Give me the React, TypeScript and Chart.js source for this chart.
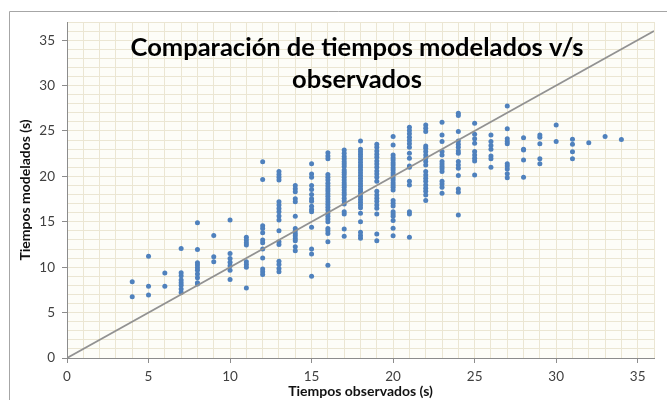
import React, { useEffect, useRef } from 'react';
import { Chart, registerables } from 'chart.js';

Chart.register(...registerables);

// Observed times (s) – x positions of each column of points
const observedTimes = [4, 5, 6, 7, 8, 9, 10, 11, 12, 13, 14, 15, 16, 17, 18, 19, 20, 21, 22, 23, 24, 25, 26, 27, 28, 29, 30, 31, 32, 33, 34];

// Modeled times (s) for each observed time
const m04 = [8.4, 6.75];
const m05 = [11.2, 7.9, 6.95];
const m06 = [9.35, 7.9];
const m07 = [12.05, 9.4, 9.05, 8.6, 8.3, 8.0, 7.6, 7.2];
const m08 = [14.9, 11.95, 10.5, 10.25, 9.95, 9.65, 9.25, 8.85, 8.3, 8.15];
const m09 = [13.5, 11.15, 10.6];
const m10 = [15.2, 11.5, 10.95, 10.55, 10.15, 9.65, 8.65];
const m11 = [13.3, 13.0, 12.7, 12.45, 10.6, 10.3, 10.0, 7.7];
const m12 = [21.6, 19.65, 14.55, 14.25, 13.8, 13.0, 12.7, 12.0, 11.0, 9.8, 9.5, 9.2];
const m13 = [20.55, 20.2, 19.9, 19.6, 17.2, 16.85, 16.45, 16.1, 15.65, 15.2, 14.0, 12.8, 12.5, 10.65, 10.3, 9.85, 9.5];
const m14 = [19.0, 18.65, 18.3, 17.55, 17.2, 15.6, 14.25, 14.0, 13.7, 13.45, 13.15, 12.9, 12.25, 11.8];
const m15 = [21.4, 20.25, 19.9, 19.0, 18.55, 18.0, 17.55, 17.25, 16.7, 16.35, 16.1, 14.4, 12.0, 11.45, 9.0];
const m16 = [22.6, 22.25, 21.95, 20.2, 19.9, 19.6, 19.25, 18.95, 18.65, 18.4, 18.1, 17.8, 17.5, 17.2, 16.9, 16.6, 16.3, 15.9, 15.6, 15.3, 15.0, 14.25, 14.0, 13.7, 12.8, 10.2];
const m17 = [22.9, 22.55, 22.2, 21.9, 21.6, 21.35, 21.1, 20.7, 20.45, 20.2, 19.9, 19.6, 19.3, 19.05, 18.8, 18.5, 18.2, 17.95, 17.6, 17.3, 16.95, 16.1, 15.85, 14.2, 13.4];
const m18 = [23.9, 23.0, 22.7, 22.45, 22.15, 21.85, 21.55, 21.25, 21.0, 20.7, 20.4, 20.1, 19.8, 19.5, 19.2, 18.9, 18.6, 18.35, 18.05, 17.75, 17.45, 17.15, 16.85, 16.55, 15.95, 15.0, 13.85, 13.5, 13.2];
const m19 = [23.55, 23.2, 22.8, 22.45, 22.1, 21.7, 21.35, 21.0, 20.6, 20.25, 19.9, 19.45, 18.35, 17.95, 17.6, 17.25, 16.85, 16.5, 15.85, 13.65, 12.9];
const m20 = [24.4, 23.45, 22.35, 22.05, 21.8, 21.5, 21.25, 20.95, 20.7, 20.4, 20.15, 19.85, 19.6, 19.3, 19.05, 18.8, 18.5, 17.35, 17.05, 16.75, 16.1, 15.85, 15.6, 15.15, 14.3, 13.45];
const m21 = [25.4, 25.05, 24.7, 24.3, 23.95, 23.6, 23.2, 22.55, 22.0, 21.15, 21.0, 19.45, 19.05, 16.1, 15.85, 13.3];
const m22 = [25.65, 25.3, 24.95, 23.35, 23.1, 22.75, 22.35, 22.0, 21.65, 21.25, 20.55, 20.15, 19.8, 19.45, 19.05, 18.7, 18.35, 17.95, 17.35];
const m23 = [25.95, 24.55, 23.85, 22.75, 22.35, 21.65, 21.35, 21.1, 20.85, 20.55, 19.45, 19.15, 18.8, 18.15];
const m24 = [26.95, 26.7, 24.95, 23.9, 23.55, 23.2, 22.8, 22.55, 21.65, 21.25, 20.9, 20.1, 18.6, 18.25, 15.75];
const m25 = [25.85, 24.65, 24.15, 23.65, 22.75, 22.35, 22.0, 21.7, 20.15];
const m26 = [24.55, 23.85, 23.4, 23.0, 22.25, 21.95, 21.0];
const m27 = [27.75, 25.25, 24.15, 23.85, 23.6, 21.4, 21.15, 20.8, 20.3, 19.85];
const m28 = [24.25, 23.0, 22.9, 21.8, 19.9];
const m29 = [24.55, 24.3, 23.6, 21.95, 21.4];
const m30 = [25.65, 23.85];
const m31 = [24.1, 23.55, 22.7, 21.95];
const m32 = [23.7];
const m33 = [24.4];
const m34 = [24.05];

const modeledByColumn = [m04, m05, m06, m07, m08, m09, m10, m11, m12, m13, m14, m15, m16, m17, m18, m19, m20, m21, m22, m23, m24, m25, m26, m27, m28, m29, m30, m31, m32, m33, m34];

// Reference line y = x
const refLineX = [0, 36];

const titleLines = ['Comparación de tiempos modelados v/s', 'observados'];
const xTitle = 'Tiempos observados (s)';
const yTitle = 'Tiempos modelados (s)';

const X_MIN = 0;
const X_MAX = 36;
const Y_MIN = 0;
const Y_MAX = 37;

const FONT = 'Lato, "Open Sans", sans-serif';

export default function App() {
  const canvasRef = useRef<HTMLCanvasElement | null>(null);

  useEffect(() => {
    const canvas = canvasRef.current;
    if (!canvas) return;

    const points: { x: number; y: number }[] = [];
    observedTimes.forEach((t, i) => {
      modeledByColumn[i].forEach((v) => points.push({ x: t, y: v }));
    });

    const bgPlugin = {
      id: 'bgFrame',
      beforeDraw(chart: any) {
        const { ctx, chartArea } = chart;
        ctx.save();
        ctx.fillStyle = '#ffffff';
        ctx.fillRect(0, 0, chart.width, chart.height);
        ctx.fillStyle = '#fdfdf8';
        ctx.fillRect(chartArea.left, chartArea.top, chartArea.right - chartArea.left, chartArea.bottom - chartArea.top);
        ctx.strokeStyle = '#a6a6a6';
        ctx.lineWidth = 1;
        ctx.beginPath();
        ctx.moveTo(9.5, chart.height + 5);
        ctx.lineTo(9.5, 11.5);
        ctx.lineTo(chart.width + 5, 11.5);
        ctx.stroke();
        ctx.restore();
      },
    };

    const titlePlugin = {
      id: 'insideTitle',
      afterDatasetsDraw(chart: any) {
        const { ctx } = chart;
        ctx.save();
        ctx.fillStyle = '#000000';
        ctx.font = `bold 25.5px ${FONT}`;
        ctx.textAlign = 'center';
        ctx.textBaseline = 'middle';
        ctx.fillText(titleLines[0], 357, 48);
        ctx.fillText(titleLines[1], 357, 80);
        ctx.restore();
      },
    };

    const tickCb = (v: any) => (Number(v) % 5 === 0 ? String(v) : '');
    const tickColorFn = (c: any) => (c.tick && c.tick.value % 5 === 0 ? '#8c8c8c' : 'rgba(0,0,0,0)');

    const chart = new Chart(canvas, {
      type: 'scatter',
      data: {
        datasets: [
          {
            type: 'line',
            data: refLineX.map((v) => ({ x: v, y: v })),
            borderColor: '#929292',
            borderWidth: 1.8,
            pointRadius: 0,
            fill: false,
            order: 0,
          } as any,
          {
            type: 'scatter',
            data: points,
            backgroundColor: '#4f81bd',
            borderWidth: 0,
            pointRadius: 2.5,
            order: 1,
          },
        ],
      },
      options: {
        responsive: false,
        animation: false,
        devicePixelRatio: 1,
        layout: { padding: { top: 22, right: 13, bottom: 0, left: 0 } },
        plugins: {
          legend: { display: false },
          tooltip: { enabled: false },
          title: { display: false },
        },
        scales: {
          x: {
            type: 'linear',
            min: X_MIN,
            max: X_MAX,
            afterFit: (s: any) => {
              s.height = 42;
            },
            ticks: {
              stepSize: 1,
              autoSkip: false,
              maxRotation: 0,
              callback: tickCb,
              color: '#404040',
              font: { family: FONT, size: 13.5 },
              padding: 6,
            },
            grid: {
              color: '#ebe6d3',
              lineWidth: 1,
              tickLength: 5,
              tickColor: tickColorFn,
            },
            border: { color: '#8c8c8c', width: 1 },
            title: {
              display: true,
              text: xTitle,
              color: '#111111',
              font: { family: FONT, size: 14, weight: 'bold' },
              padding: { top: 0, bottom: 0 },
            },
          },
          y: {
            type: 'linear',
            min: Y_MIN,
            max: Y_MAX,
            afterFit: (s: any) => {
              s.width = 67;
            },
            ticks: {
              stepSize: 1,
              autoSkip: false,
              callback: tickCb,
              color: '#404040',
              font: { family: FONT, size: 13.5 },
              padding: 7,
            },
            grid: {
              color: '#ebe6d3',
              lineWidth: 1,
              tickLength: 5,
              tickColor: tickColorFn,
            },
            border: { color: '#8c8c8c', width: 1 },
            title: {
              display: true,
              text: yTitle,
              color: '#111111',
              font: { family: FONT, size: 14, weight: 'bold' },
              padding: { top: 17, bottom: 0 },
            },
          },
        },
      },
      plugins: [bgPlugin, titlePlugin],
    } as any);

    return () => chart.destroy();
  }, []);

  return (
    <div style={{ position: 'fixed', left: 0, top: 0, width: 667, height: 400 }}>
      <canvas ref={canvasRef} width={667} height={400} style={{ display: 'block' }} />
    </div>
  );
}
